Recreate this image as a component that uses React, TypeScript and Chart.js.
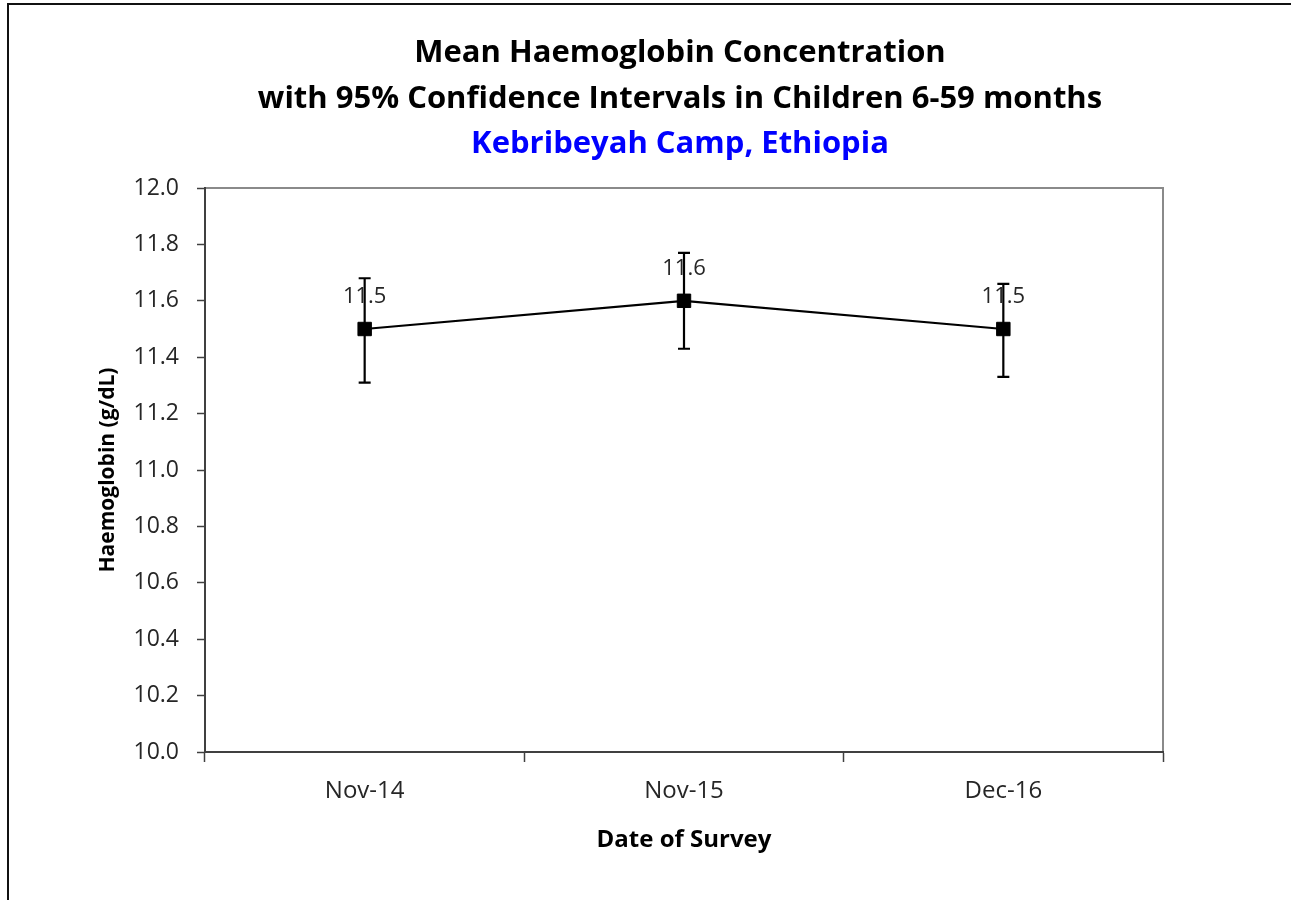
import React, { useEffect, useRef } from "react";
import { Chart, registerables } from "chart.js";

Chart.register(...registerables);

// ---- Data ----
const categories: string[] = ["Nov-14", "Nov-15", "Dec-16"];
const meanValues: number[] = [11.5, 11.6, 11.5];
const upperCI: number[] = [11.68, 11.77, 11.66];
const lowerCI: number[] = [11.31, 11.43, 11.33];
const yTickValues: number[] = [10.0, 10.2, 10.4, 10.6, 10.8, 11.0, 11.2, 11.4, 11.6, 11.8, 12.0];
const titleLines: string[] = [
  "Mean Haemoglobin Concentration",
  "with 95% Confidence Intervals in Children 6-59 months",
];
const subtitleText = "Kebribeyah Camp, Ethiopia";
const yAxisTitle = "Haemoglobin (g/dL)";
const xAxisTitle = "Date of Survey";

const FONT = "'Open Sans', 'Noto Sans', sans-serif";

const plotBorderPlugin = {
  id: "plotBorder",
  beforeDraw(chart: any) {
    const { ctx, chartArea } = chart;
    ctx.save();
    ctx.strokeStyle = "#8a8a8a";
    ctx.lineWidth = 2;
    ctx.strokeRect(chartArea.left, chartArea.top, chartArea.right - chartArea.left, chartArea.bottom - chartArea.top);
    ctx.restore();
  },
};

const errorBarPlugin = {
  id: "errorBars",
  beforeDatasetsDraw(chart: any) {
    const { ctx } = chart;
    const xScale = chart.scales.x;
    const yScale = chart.scales.y;
    ctx.save();
    // data labels
    ctx.font = `22px ${FONT}`;
    ctx.fillStyle = "#262626";
    ctx.textAlign = "center";
    ctx.textBaseline = "middle";
    meanValues.forEach((v, i) => {
      const x = xScale.getPixelForValue(i);
      const y = yScale.getPixelForValue(v);
      ctx.fillText(v.toFixed(1), x, y - 32);
    });
    // error bars
    ctx.strokeStyle = "#000";
    ctx.lineWidth = 2.2;
    meanValues.forEach((_v, i) => {
      const x = xScale.getPixelForValue(i);
      const yTop = yScale.getPixelForValue(upperCI[i]);
      const yBot = yScale.getPixelForValue(lowerCI[i]);
      ctx.beginPath();
      ctx.moveTo(x, yTop);
      ctx.lineTo(x, yBot);
      ctx.moveTo(x - 6, yTop);
      ctx.lineTo(x + 6, yTop);
      ctx.moveTo(x - 6, yBot);
      ctx.lineTo(x + 6, yBot);
      ctx.stroke();
    });
    ctx.restore();
  },
};

export default function App() {
  const canvasRef = useRef<HTMLCanvasElement | null>(null);

  useEffect(() => {
    if (!canvasRef.current) return;
    const chart = new Chart(canvasRef.current, {
      type: "line",
      data: {
        labels: categories,
        datasets: [
          {
            label: "Mean Hb",
            data: meanValues,
            borderColor: "#000",
            borderWidth: 2.2,
            backgroundColor: "#000",
            pointStyle: "rect",
            pointRadius: 9.5,
            pointBorderWidth: 1,
            pointBackgroundColor: "#000",
            pointBorderColor: "#000",
            tension: 0,
            yAxisID: "y",
          },
        ],
      },
      options: {
        responsive: false,
        animation: false,
        layout: { padding: { left: 0, right: 0, top: 0, bottom: 0 } },
        plugins: {
          legend: { display: false },
          tooltip: { enabled: false },
          title: {
            display: true,
            text: titleLines,
            color: "#000",
            font: { family: FONT, size: 31, weight: "bold", lineHeight: "46px" },
            padding: { top: 30, bottom: 0 },
          },
          subtitle: {
            display: true,
            text: subtitleText,
            color: "#0000ff",
            font: { family: FONT, size: 31, weight: "bold", lineHeight: "44px" },
            padding: { top: 0, bottom: 22 },
          },
        },
        scales: {
          x: {
            type: "category",
            offset: true,
            grid: {
              offset: true,
              drawOnChartArea: false,
              drawTicks: true,
              tickLength: 10,
              tickColor: "#404040",
              tickWidth: 1.5,
            },
            border: { display: true, color: "#404040", width: 2 },
            ticks: { color: "#262626", font: { family: FONT, size: 24 }, padding: 15 },
            title: {
              display: true,
              text: xAxisTitle,
              color: "#000",
              font: { family: FONT, size: 24, weight: "bold" },
              padding: { top: 0, bottom: 45 },
            },
            afterFit(scale: any) {
              scale.height = 148;
            },
          },
          y: {
            position: "left",
            min: 10,
            max: 12,
            grid: {
              drawOnChartArea: false,
              drawTicks: true,
              tickLength: 8,
              tickColor: "#404040",
              tickWidth: 1.5,
            },
            border: { display: true, color: "#404040", width: 2 },
            afterBuildTicks(scale: any) {
              scale.ticks = yTickValues.map((v) => ({ value: v }));
            },
            ticks: {
              color: "#262626",
              font: { family: FONT, size: 23 },
              padding: 18,
              callback: (v: any) => Number(v).toFixed(1),
            },
            title: {
              display: true,
              text: yAxisTitle,
              color: "#000",
              font: { family: FONT, size: 21, weight: "bold" },
              padding: { top: 26, bottom: 0 },
            },
            afterFit(scale: any) {
              scale.width = 136;
            },
          },
          yRight: {
            position: "right",
            min: 10,
            max: 12,
            grid: { display: false, drawOnChartArea: false, drawTicks: false },
            border: { display: false },
            ticks: { display: false },
            afterFit(scale: any) {
              scale.width = 128;
            },
          },
        },
      },
      plugins: [plotBorderPlugin, errorBarPlugin],
    });
    return () => chart.destroy();
  }, []);

  return (
    <div style={{ position: "fixed", left: 0, top: 0, width: 1291, height: 900, background: "#fff", overflow: "hidden" }}>
      <div
        style={{
          position: "absolute",
          left: 7,
          top: 3,
          width: 1291,
          height: 900,
          borderLeft: "2px solid #111",
          borderTop: "2px solid #111",
        }}
      />
      <canvas
        ref={canvasRef}
        width={1222}
        height={900}
        style={{ position: "absolute", left: 69, top: 0, width: 1222, height: 900 }}
      />
    </div>
  );
}
